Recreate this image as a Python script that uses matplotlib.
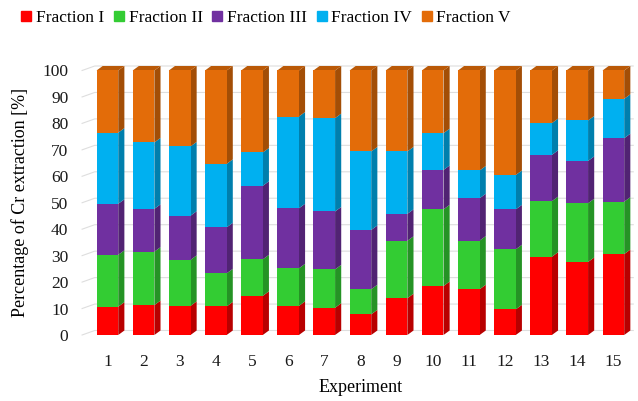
import matplotlib
import numpy as np
import matplotlib.pyplot as plt
from matplotlib.patches import Polygon
from matplotlib.lines import Line2D
from matplotlib.colors import to_rgb

experiments = np.arange(1, 16)
fraction_1 = [10.7, 11.3, 11.0, 10.8, 14.8, 11.0, 10.3, 7.8, 13.9, 18.5, 17.3, 9.7, 29.6, 27.6, 30.6]
fraction_2 = [19.6, 20.2, 17.4, 12.5, 13.8, 14.2, 14.5, 9.5, 21.7, 29.0, 18.4, 22.7, 21.0, 22.2, 19.8]
fraction_3 = [19.3, 16.2, 16.7, 17.4, 27.8, 22.7, 21.9, 22.4, 10.2, 14.9, 16.0, 15.1, 17.5, 16.0, 24.0]
fraction_4 = [26.9, 25.1, 26.2, 24.0, 12.6, 34.7, 35.3, 29.7, 23.6, 13.9, 10.5, 13.0, 12.0, 15.3, 14.9]
fraction_5 = [23.5, 27.2, 28.7, 35.3, 31.0, 17.4, 18.0, 30.6, 30.6, 23.7, 37.8, 39.5, 19.9, 18.9, 10.7]

labels = ['Fraction I', 'Fraction II', 'Fraction III', 'Fraction IV', 'Fraction V']
colors = ['#FF0000', '#33CC33', '#7030A0', '#00B0F0', '#E36C09']

font = {'family': 'serif', 'serif': ['Liberation Serif', 'DejaVu Serif'], 'size': 12}
matplotlib.rc('font', **font)

fig = plt.figure(figsize=(6.38, 4.01), dpi=100)
ax = fig.add_axes([0.140, 0.1646, 0.8497, 0.6596])

width = 0.6
dx, dy = 0.17, 1.7


def darker(c, f=0.72):
    return tuple(v * f for v in to_rgb(c))


# back wall / side wall gridlines
for v in range(0, 101, 10):
    ax.plot([0.3, 0.3 + 0.35, 15.55], [v, v + dy, v + dy], color='#dedede',
            linewidth=0.8, zorder=0, clip_on=False)

data = [fraction_1, fraction_2, fraction_3, fraction_4, fraction_5]
bottom = np.zeros(len(experiments))
for k, vals in enumerate(data):
    vals = np.array(vals)
    ax.bar(experiments, vals, width, bottom=bottom, color=colors[k],
           linewidth=0, zorder=3)
    for i, x in enumerate(experiments):
        xr = x + width / 2
        y0, y1 = bottom[i], bottom[i] + vals[i]
        side = Polygon([(xr, y0), (xr + dx, y0 + dy), (xr + dx, y1 + dy), (xr, y1)],
                       closed=True, facecolor=darker(colors[k]), edgecolor='none',
                       zorder=2, clip_on=False)
        ax.add_patch(side)
    bottom = bottom + vals

# top faces
for i, x in enumerate(experiments):
    xl, xr = x - width / 2, x + width / 2
    top = bottom[i]
    face = Polygon([(xl, top), (xl + dx, top + dy), (xr + dx, top + dy), (xr, top)],
                   closed=True, facecolor=darker(colors[4], 0.82), edgecolor='none',
                   zorder=2, clip_on=False)
    ax.add_patch(face)

ax.set_xlim(0.5, 15.5)
ax.set_ylim(0, 100)
ax.set_xticks(experiments)
ax.set_yticks(np.arange(0, 101, 10))
ax.tick_params(axis='both', length=0, labelsize=12.5, colors='#1a1a1a')
ax.tick_params(axis='y', pad=15)
ax.tick_params(axis='x', pad=14)
for s in ax.spines.values():
    s.set_visible(False)

ax.set_xlabel('Experiment', fontsize=13, labelpad=6)
ax.set_ylabel('Percentage of Cr extraction [%]', fontsize=13, labelpad=10)

handles = [Line2D([], [], marker='s', linestyle='none', markersize=6.5,
                  markerfacecolor=c, markeredgecolor=c) for c in colors]
fig.legend(handles, labels, loc='upper left', bbox_to_anchor=(0.006, 1.015), ncol=5,
           frameon=False, fontsize=12.5, handletextpad=0.15, columnspacing=0.45,
           handlelength=0.8)

plt.savefig('out.png', dpi=100)
